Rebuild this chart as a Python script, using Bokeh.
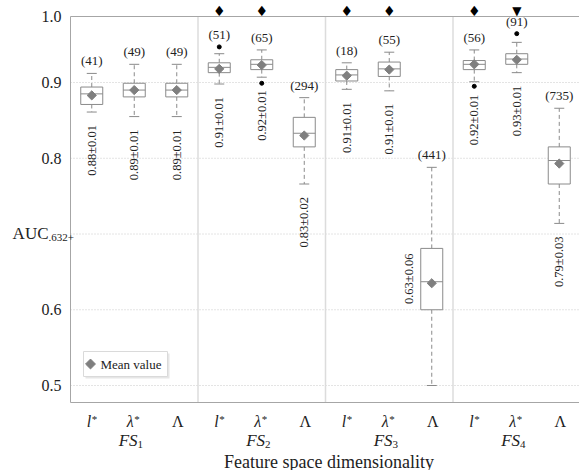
import numpy as np
from bokeh.plotting import figure
from bokeh.models import Range1d
from bokeh.core.properties import value
from bokeh.embed import file_html
from bokeh.resources import INLINE

# ---------------- data ----------------
group_labels = ["FS", "FS", "FS", "FS"]
group_subs = ["1", "2", "3", "4"]
method_labels = ["l", "λ", "Λ"]
method_italic = [True, True, False]
method_star = ["*", "*", ""]

whisk_hi = [0.912, 0.924, 0.924, 0.938, 0.943, 0.880, 0.926, 0.940, 0.788, 0.943, 0.953, 0.866]
q3       = [0.894, 0.899, 0.899, 0.926, 0.930, 0.854, 0.917, 0.927, 0.681, 0.929, 0.938, 0.815]
medians  = [0.885, 0.890, 0.890, 0.920, 0.924, 0.833, 0.910, 0.918, 0.637, 0.924, 0.931, 0.797]
q1       = [0.871, 0.881, 0.881, 0.913, 0.917, 0.815, 0.902, 0.908, 0.600, 0.917, 0.924, 0.766]
whisk_lo = [0.861, 0.855, 0.855, 0.898, 0.907, 0.766, 0.891, 0.889, 0.500, 0.901, 0.913, 0.714]
means    = [0.883, 0.890, 0.890, 0.918, 0.923, 0.830, 0.909, 0.917, 0.635, 0.924, 0.930, 0.793]
counts   = ["(41)", "(49)", "(49)", "(51)", "(65)", "(294)", "(18)", "(55)", "(441)", "(56)", "(91)", "(735)"]
summary  = ["0.88±0.01", "0.89±0.01", "0.89±0.01", "0.91±0.01", "0.92±0.01", "0.83±0.02",
            "0.91±0.01", "0.91±0.01", "0.63±0.06", "0.92±0.01", "0.93±0.01", "0.79±0.03"]
signif   = ["", "", "", "♦", "♦", "", "♦", "♦", "", "♦", "▼", ""]
out_idx  = [3, 4, 9, 10]
out_val  = [0.947, 0.899, 0.895, 0.9645]

y_ticks = [0.5, 0.6, 0.7, 0.8, 0.9, 1.0]
y_tick_labels = ["0.5", "0.6", "", "0.8", "0.9", "1.0"]
legend_label = "Mean value"
x_title = "Feature space dimensionality"
y_title = "AUC"
y_title_sub = ".632+"

# ---------------- layout (pixel helpers) ----------------
W, H = 579, 470
FX0, SLOT = 70.0, 42.5          # frame left edge (px), width of one box slot (px)
PY05, PYU = 385.0, 757.5        # px of y=0.5, px per unit of y
n = len(medians)
xs = np.arange(n) + 0.5

def xd(px):
    return (px - FX0) / SLOT

def yd(py):
    return 0.5 + (PY05 - py) / PYU

def dx(px):
    return px / SLOT

def dy(px):
    return px / PYU

Y0, Y1 = yd(402), yd(16)        # frame bottom / top
SERIF = "Liberation Serif"
GREY = "#8a8a8a"
TXT = "#222222"
FRAME = "#a6a6a6"

p = figure(width=W, height=H, output_backend="svg", toolbar_location=None,
           x_range=Range1d(xd(0), xd(W)), y_range=Range1d(yd(H), yd(0)),
           x_axis_type=None, y_axis_type=None,
           min_border_left=0, min_border_right=0, min_border_top=0, min_border_bottom=0)
p.outline_line_color = None
p.grid.visible = False

# grid lines (dotted)
gt = [t for t in y_ticks if t < Y1]
p.segment([0] * len(gt), gt, [n] * len(gt), gt, line_color="#c8c8c8", line_dash="1 2", line_width=1)
# group separators
seps = [3 * g for g in range(1, len(group_labels))]
p.segment(seps, [Y0] * len(seps), seps, [Y1] * len(seps), line_color="#dcdcdc", line_width=1.5)
# frame lines (left, top, bottom)
p.segment([0, 0, 0], [Y0, Y1, Y0], [0, n, n], [Y1, Y1, Y0], line_color=FRAME, line_width=1)

# y tick labels
p.text(x=[xd(61)] * len(y_ticks), y=[min(t, Y1) for t in y_ticks], text=y_tick_labels,
       text_align="right", text_baseline="middle", text_font=value(SERIF),
       text_font_size="16px", text_color=TXT)

# whiskers
p.segment(xs, q3, xs, whisk_hi, line_color=GREY, line_dash="4 3", line_width=1)
p.segment(xs, q1, xs, whisk_lo, line_color=GREY, line_dash="4 3", line_width=1)
cap = dx(5)
p.segment(xs - cap, whisk_hi, xs + cap, whisk_hi, line_color=GREY, line_width=1)
p.segment(xs - cap, whisk_lo, xs + cap, whisk_lo, line_color=GREY, line_width=1)
# boxes
bw = dx(22)
p.quad(left=xs - bw / 2, right=xs + bw / 2, bottom=q1, top=q3,
       fill_color="white", line_color=GREY, line_width=1)
p.segment(xs - bw / 2, medians, xs + bw / 2, medians, line_color=GREY, line_width=1)
# outliers
p.scatter(xs[out_idx], out_val, marker="circle", size=4, color="black")
# means
p.scatter(xs, means, marker="square", angle=np.pi / 4, size=6.5,
          fill_color="#7f7f7f", line_color="#7f7f7f")

# count labels above
tops = list(whisk_hi)
for i, v in zip(out_idx, out_val):
    tops[i] = max(tops[i], v)
p.text(x=xs, y=[t + dy(5) for t in tops], text=counts, text_align="center",
       text_baseline="bottom", text_font=value(SERIF), text_font_size="13px", text_color=TXT)

# rotated summary labels
lx, ly = [], []
for i in range(n):
    if whisk_lo[i] - Y0 > dy(80):
        lx.append(xs[i]); ly.append(whisk_lo[i] - dy(13))
    else:
        lx.append(xs[i] - dx(23)); ly.append(q3[i] - dy(5))
p.text(x=lx, y=ly, text=summary, angle=np.pi / 2, text_align="right",
       text_baseline="middle", text_font=value(SERIF), text_font_size="12.5px", text_color=TXT)

# significance markers above frame
sd = [i for i in range(n) if signif[i] == "♦"]
st = [i for i in range(n) if signif[i] == "▼"]
p.text(x=xs[sd], y=[Y1 + dy(6)] * len(sd), text=[signif[i] for i in sd], text_align="center",
       text_baseline="middle", text_font=value("DejaVu Sans"), text_font_size="14px",
       text_color="black")
p.text(x=xs[st], y=[Y1 + dy(6)] * len(st), text=[signif[i] for i in st], text_align="center",
       text_baseline="middle", text_font=value("DejaVu Sans"), text_font_size="12px",
       text_color="black")

# category labels below the frame
ital = [i for i in range(n) if method_italic[i % 3]]
upr = [i for i in range(n) if not method_italic[i % 3]]
p.text(x=xs[ital] - dx(0.5), y=[yd(421)] * len(ital), text=[method_labels[i % 3] for i in ital],
       text_align="right", text_baseline="alphabetic", text_font=value(SERIF),
       text_font_style="italic", text_font_size="16px", text_color=TXT)
p.text(x=xs[ital], y=[yd(418)] * len(ital), text=[method_star[i % 3] for i in ital],
       text_align="left", text_baseline="alphabetic", text_font=value(SERIF),
       text_font_size="11px", text_color=TXT)
p.text(x=xs[upr] + dx(1), y=[yd(421)] * len(upr), text=[method_labels[i % 3] for i in upr],
       text_align="center", text_baseline="alphabetic", text_font=value(SERIF),
       text_font_size="16px", text_color=TXT)
# group labels
gx = np.array([3 * g + 1.5 for g in range(len(group_labels))])
p.text(x=gx + dx(3.3), y=[yd(440)] * len(gx), text=group_labels, text_align="right",
       text_baseline="alphabetic", text_font=value(SERIF), text_font_style="italic",
       text_font_size="17px", text_color=TXT)
p.text(x=gx + dx(3.3), y=[yd(444)] * len(gx), text=group_subs, text_align="left",
       text_baseline="alphabetic", text_font=value(SERIF), text_font_size="11px", text_color=TXT)
# axis titles
p.text(x=[xd(328.5)], y=[yd(461)], text=[x_title], text_align="center",
       text_baseline="alphabetic", text_font=value(SERIF), text_font_size="18px", text_color=TXT)
p.text(x=[xd(48)], y=[yd(233)], text=[y_title], text_align="right",
       text_baseline="alphabetic", text_font=value(SERIF), text_font_size="17px", text_color=TXT)
p.text(x=[xd(48)], y=[yd(237)], text=[y_title_sub], text_align="left",
       text_baseline="alphabetic", text_font=value(SERIF), text_font_size="11px", text_color=TXT)

# legend box (drawn by hand so the marker is a true diamond)
p.quad(left=[xd(85)], right=[xd(169)], bottom=[yd(378)], top=[yd(353)],
       fill_color="#e6e6e6", line_color=None)
p.quad(left=[xd(83)], right=[xd(167)], bottom=[yd(376)], top=[yd(351)],
       fill_color="white", line_color="#dadada", line_width=1)
p.scatter(x=[xd(90)], y=[yd(363.5)], marker="square", angle=np.pi / 4, size=7,
          fill_color="#7f7f7f", line_color="#7f7f7f")
p.text(x=[xd(100)], y=[yd(363.5)], text=[legend_label], text_align="left",
       text_baseline="middle", text_font=value(SERIF), text_font_size="13px", text_color=TXT)

open("out.html", "w").write(file_html(p, INLINE))
